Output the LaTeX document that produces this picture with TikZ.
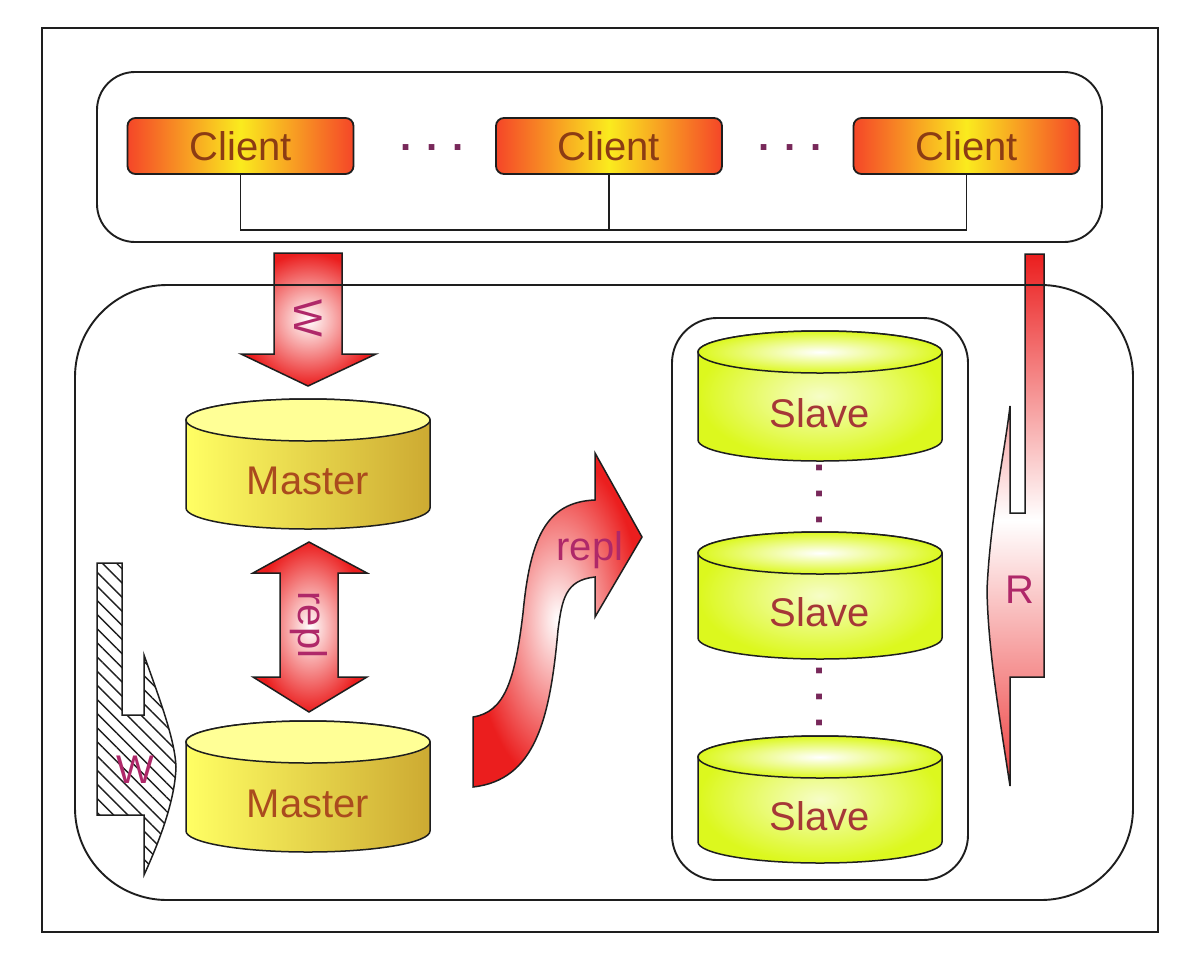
\documentclass[tikz,border=0pt]{standalone}
\usepackage{fontspec}
\setmainfont{Liberation Sans}
\usetikzlibrary{patterns.meta}
\definecolor{clientred}{RGB}{245,70,40}
\definecolor{clientyel}{RGB}{250,235,30}
\definecolor{clienttxt}{RGB}{140,60,20}
\definecolor{mastertxt}{RGB}{170,75,30}
\definecolor{slavetxt}{RGB}{165,55,55}
\definecolor{labeltxt}{RGB}{175,40,105}
\definecolor{arrred}{RGB}{235,30,30}
\definecolor{dotcol}{RGB}{120,40,90}
\definecolor{myyel}{RGB}{255,255,100}
\definecolor{mytop}{RGB}{255,255,150}
\definecolor{mygold}{RGB}{205,170,50}
\definecolor{mylime}{RGB}{220,248,30}
\definecolor{linecol}{RGB}{30,30,30}
\newcommand\myfont{\fontsize{40}{46}\selectfont}
\newcommand\mycyl[8]{%
  \path[#5,draw=linecol,line width=1.5pt] (#2-122,-#3) -- (#2-122,-#4)
    arc[start angle=180,end angle=360,x radius=122pt,y radius=21pt]
    -- (#2+122,-#3) arc[start angle=0,end angle=180,x radius=122pt,y radius=21pt] -- cycle;
  \path[#6,draw=linecol,line width=1.5pt] (#2,-#3) ellipse[x radius=122pt,y radius=21pt];
  \node[cyltext,#7] (#1) at (#2,{-(#3+#4)/2-17}) {#8};}
\tikzset{
  frame/.style={draw=linecol,line width=1.9pt},
  client/.style={draw=linecol,line width=1.8pt,rounded corners=8pt,minimum width=226pt,
    minimum height=56pt,inner sep=0pt,shading=axis,left color=clientred,right color=clientred,
    middle color=clientyel,text=clienttxt,font=\myfont},
  cyltext/.style={font=\myfont,inner sep=0pt},
  mbody/.style={shading=axis,left color=myyel,right color=mygold},
  mtop/.style={fill=mytop},
  sbody/.style={shading=radial,inner color=mylime!25!white,outer color=mylime},
  stop/.style={shading=radial,inner color=white,outer color=mylime},
  arrowshade/.style={draw=linecol,line width=1.5pt,shading=radial,inner color=white,outer color=arrred},
  lbl/.style={font=\myfont,text=labeltxt,inner sep=0pt},
  dots/.style={font=\myfont\bfseries,text=dotcol,inner sep=0pt},
}
\begin{document}
\begin{tikzpicture}[x=1pt,y=1pt]
\useasboundingbox (0,0) rectangle (1202,-970);
\fill[white] (0,0) rectangle (1202,-970);

% block arrows
\draw[arrowshade] (274,-253) -- (342,-253) -- (342,-354) -- (376,-354) -- (308,-386)
  -- (241,-354) -- (274,-354) -- cycle;
\node[lbl,rotate=-90] (w1) at (308,-318) {W};

\draw[arrowshade] (280,-573) -- (253,-573) -- (309,-542) -- (367,-573) -- (338,-573)
  -- (338,-677) -- (367,-677) -- (309,-712) -- (253,-677) -- (280,-677) -- cycle;
\node[lbl,rotate=-90] (repl1) at (309,-625) {repl};

\draw[draw=linecol,line width=1.5pt,preaction={fill=white},
  pattern={Lines[angle=-45,distance=10pt,line width=1.4pt]},pattern color=linecol]
  (97,-563) -- (122,-563) -- (122,-715) -- (144,-715) -- (144,-655)
  .. controls (160,-700) and (175,-740) .. (176,-767)
  .. controls (175,-800) and (160,-840) .. (144,-875) -- (144,-815) -- (97,-815) -- cycle;
\node[lbl] (w2) at (135,-770) {W};

\draw[arrowshade] (473,-717) .. controls (505,-712) and (515,-680) .. (523,-613)
  .. controls (530,-540) and (545,-502) .. (595,-500) -- (595,-453) -- (642,-537)
  -- (595,-617) -- (595,-577) .. controls (565,-580) and (562,-600) .. (558,-630)
  .. controls (550,-720) and (535,-780) .. (473,-787) -- cycle;
\node[lbl] (repl2) at (590,-550) {repl};

\draw[draw=linecol,line width=1.5pt,shading=axis,top color=arrred,bottom color=arrred!85!white,middle color=white]
  (1025,-254) -- (1044,-254) -- (1044,-677) -- (1010,-677) -- (1010,-786)
  .. controls (1000,-720) and (988,-650) .. (987,-590)
  .. controls (990,-520) and (1005,-450) .. (1010,-406) -- (1010,-513) -- (1025,-513) -- cycle;
\node[lbl] (r) at (1020,-590) {R};

% frames
\draw[frame] (42,-28) rectangle (1158,-932);
\draw[frame,rounded corners=38pt] (97,-72) rectangle (1102,-242);
\draw[frame,rounded corners=92pt] (75,-285) rectangle (1133,-900);
\draw[frame,rounded corners=45pt] (672,-318) rectangle (968,-880);

% clients
\node[client] (c1) at (240.5,-146) {Client};
\node[client] (c2) at (609,-146) {Client};
\node[client] (c3) at (966.5,-146) {Client};
\node[dots] (d1) at (432,-148) {. . .};
\node[dots] (d2) at (790,-148) {. . .};
\coordinate (bus) at (0,-230);
\draw[frame] (c1.south) |- (c3.south |- bus) -- (c3.south);
\draw[frame] (c2.south) -- (c2.south |- bus);

% cylinders
\mycyl{m1}{308}{420}{508}{mbody}{mtop}{text=mastertxt}{Master}
\mycyl{m2}{308}{742}{831}{mbody}{mtop}{text=mastertxt}{Master}
\mycyl{s1}{820}{352}{440}{sbody}{stop}{text=slavetxt}{Slave}
\mycyl{s2}{820}{553}{638}{sbody}{stop}{text=slavetxt}{Slave}
\mycyl{s3}{820}{757}{842}{sbody}{stop}{text=slavetxt}{Slave}
\node[dots,rotate=90] (vd1) at (820,-494) {. . .};
\node[dots,rotate=90] (vd2) at (820,-697) {. . .};
\end{tikzpicture}
\end{document}
